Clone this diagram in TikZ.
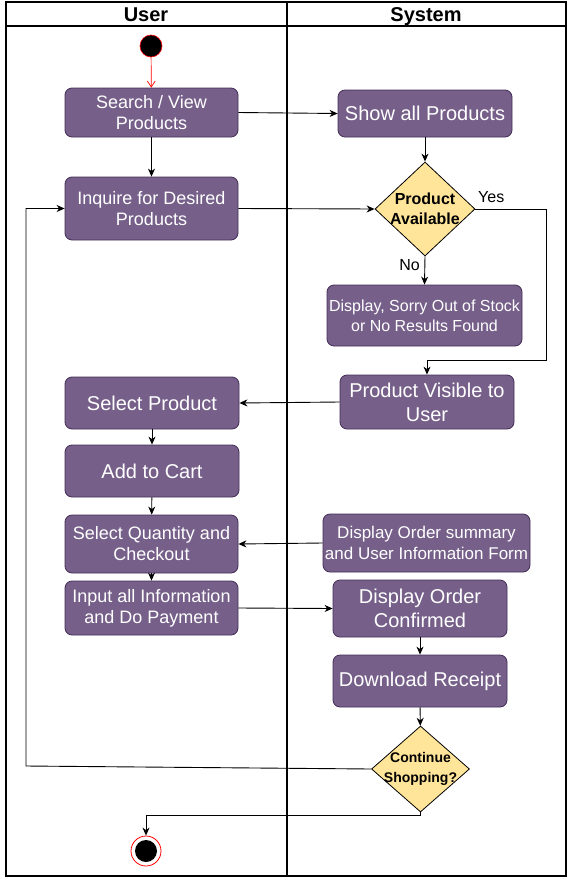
\documentclass[tikz,border=0pt]{standalone}
\usepackage{fontspec}
\setmainfont{Liberation Sans}
\usetikzlibrary{shapes.geometric,arrows.meta}
\definecolor{boxfill}{HTML}{76608A}
\definecolor{boxline}{HTML}{432D57}
\definecolor{diafill}{HTML}{FFE599}
\begin{document}
\begin{tikzpicture}[x=1pt,y=-1pt,
  act/.style={rectangle, rounded corners=7pt, fill=boxfill, draw=boxline, line width=0.8pt,
    text=white, align=center, inner sep=0pt, font=\fontsize{18}{21}\selectfont},
  bigact/.style={act, font=\fontsize{20}{24}\selectfont},
  smallact/.style={act, font=\fontsize{16}{20}\selectfont},
  dia/.style={diamond, fill=diafill, draw=black, line width=0.8pt, inner sep=0pt},
  diatext/.style={align=center, inner sep=0pt, font=\bfseries\fontsize{16}{20}\selectfont},
  hdr/.style={font=\bfseries\fontsize{20}{24}\selectfont, inner sep=0pt, anchor=base},
  lbl/.style={font=\fontsize{16}{19}\selectfont, inner sep=0pt},
  arr/.style={draw=black, line width=0.9pt, -{Stealth[length=8pt,width=7pt,inset=2.5pt]}},
  frame/.style={line width=1.2pt}
]
\useasboundingbox (0,0) rectangle (567,881);
% swimlane frame
\draw[frame] (6,2) rectangle (566,876);
\draw[frame] (6,26) -- (566,26);
\draw[frame] (287,2) -- (287,876);
\node[hdr] (huser) at (146,21) {User};
\node[hdr] (hsys) at (426,21) {System};

% start
\node[circle, fill=black, draw=red, line width=0.6pt, minimum size=22pt, inner sep=0pt] (start) at (151,46) {};

% user lane
\node[act, minimum width=173, minimum height=49] (search) at (151.5,112.5) {Search / View\\Products};
\node[act, minimum width=173, minimum height=63] (inquire) at (151.5,208.5) {Inquire for Desired\\Products};
\node[bigact, minimum width=174, minimum height=52] (selprod) at (152,403) {Select Product};
\node[bigact, minimum width=174, minimum height=52] (cart) at (152,471) {Add to Cart};
\node[act, minimum width=173, minimum height=58] (qty) at (151.5,544) {Select Quantity and\\Checkout};
\node[act, minimum width=173, minimum height=54] (input) at (151.5,608) {Input all Information\\and Do Payment};

% system lane
\node[bigact, minimum width=174, minimum height=47] (show) at (425,113.5) {Show all Products};
\node[dia, minimum width=100, minimum height=94] (d1) at (425,209) {};
\node[diatext] (d1t) at (425,209) {Product\\Available};
\node[smallact, minimum width=195, minimum height=61] (sorry) at (424.5,315.5) {Display, Sorry Out of Stock\\or No Results Found};
\node[bigact, minimum width=174, minimum height=54] (visible) at (427,402) {Product Visible to\\User};
\node[act, font=\fontsize{17}{21}\selectfont, minimum width=207, minimum height=58] (summary) at (426.5,543) {Display Order summary\\and User Information Form};
\node[bigact, minimum width=174, minimum height=57] (confirmed) at (420,608.5) {Display Order\\Confirmed};
\node[bigact, minimum width=174, minimum height=52] (receipt) at (420,681) {Download Receipt};
\node[dia, minimum width=98, minimum height=86] (d2) at (420.5,769) {};
\node[diatext, font=\bfseries\fontsize{14}{20}\selectfont] (d2t) at (420.5,769) {Continue\\Shopping?};

% end
\node[circle, fill=white, draw=red, line width=0.8pt, minimum size=30pt, inner sep=0pt] (end) at (146,851) {};
\node[circle, fill=black, minimum size=22pt, inner sep=0pt] (endin) at (146,851) {};

% helper coordinates
\coordinate (yb) at (546,360);
\coordinate (lb) at (26,766);
\coordinate (bb) at (420.5,815);

% connectors
\draw[draw=red, line width=0.7pt, -{Straight Barb[length=6pt,width=8pt]}] (start) -- (search);
\draw[arr] (search.east) -- (show.west);
\draw[arr] (search) -- (inquire);
\draw[arr] (show) -- (d1);
\draw[arr] (inquire.east) -- (d1.west);
\draw[arr] (d1.east) -| (yb) -| (visible.north);
\node[lbl, anchor=south west] (yes) at (478,203) {Yes};
\draw[arr] (d1.south) -- (sorry.north);
\node[lbl, anchor=east] (no) at (420,265) {No};
\draw[arr] (visible.west) -- (selprod.east);
\draw[arr] (selprod) -- (cart);
\draw[arr] (cart) -- (qty);
\draw[arr] (summary.west) -- (qty.east);
\draw[arr] (qty) -- (input);
\draw[arr] (input.east) -- (confirmed.west);
\draw[arr] (confirmed) -- (receipt);
\draw[arr] (receipt) -- (d2);
\draw[arr] (d2.west) -- (lb) |- (inquire.west);
\draw[arr] (d2.south) -- (bb) -| (end.north);
\end{tikzpicture}
\end{document}
